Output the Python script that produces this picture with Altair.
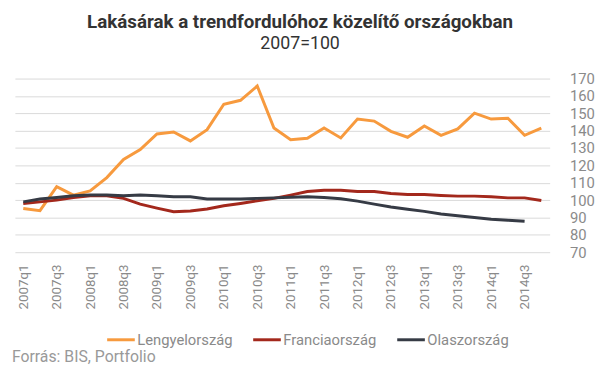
import altair as alt
import pandas as pd

quarters = [f"{y}q{q}" for y in range(2007, 2015) for q in range(1, 5)]

lengyel = [95.2, 93.9, 107.8, 102.9, 105.3, 113.0, 123.4, 129.1,
           138.1, 139.2, 134.1, 140.6, 155.2, 157.5, 165.7, 141.5,
           134.8, 135.6, 141.5, 135.8, 146.7, 145.5, 139.6, 136.2,
           142.7, 137.3, 141.0, 150.1, 146.7, 147.2, 137.3, 141.5]
francia = [98.1, 99.0, 100.0, 101.5, 102.5, 102.5, 101.0, 97.7,
           95.4, 93.3, 93.7, 94.9, 96.8, 98.1, 99.6, 101.0,
           102.9, 105.0, 105.7, 105.7, 105.0, 105.0, 103.8, 103.2,
           103.2, 102.7, 102.3, 102.3, 101.9, 101.3, 101.3, 99.8]
olasz = [99.0, 100.6, 101.5, 102.5, 102.9, 103.0, 102.5, 103.0,
         102.5, 101.9, 101.9, 100.6, 100.6, 100.6, 101.0, 101.3,
         101.7, 101.9, 101.5, 100.8, 99.4, 97.7, 96.0, 94.7,
         93.5, 92.0, 91.0, 90.0, 89.0, 88.4, 87.8, None]

series_names = ["Lengyelország", "Franciaország", "Olaszország"]
series_colors = ["#F79A3E", "#A3281C", "#363B45"]
y_ticks = list(range(70, 171, 10))
x_labels = [q for q in quarters if q.endswith("q1") or q.endswith("q3")]

rows = []
for name, vals in zip(series_names, [lengyel, francia, olasz]):
    for q, v in zip(quarters, vals):
        if v is not None:
            rows.append({"negyedev": q, "orszag": name, "ertek": v})
df = pd.DataFrame(rows)

lines = alt.Chart(df).mark_line(strokeWidth=3).encode(
    x=alt.X("negyedev:O", sort=quarters,
            scale=alt.Scale(type="point", padding=0.5, domain=quarters),
            axis=alt.Axis(title=None, values=x_labels, labelAngle=-90,
                          labelAlign="right", labelBaseline="middle",
                          labelPadding=12, ticks=False, domain=False,
                          grid=False, labelFontSize=13.5, labelColor="#8a8a8a",
                          labelFont="Roboto")),
    y=alt.Y("ertek:Q", scale=alt.Scale(domain=[70, 170], nice=False, zero=False),
            axis=alt.Axis(title=None, orient="right", values=y_ticks,
                          ticks=False, domain=False, labelPadding=20,
                          labelFontSize=15, labelColor="#8a8a8a",
                          labelFont="Roboto", gridColor="#d9d9d9",
                          gridWidth=1)),
    color=alt.Color("orszag:N", sort=series_names,
                    scale=alt.Scale(domain=series_names, range=series_colors),
                    legend=alt.Legend(title=None, orient="none",
                                      direction="horizontal",
                                      legendX=92, legendY=249,
                                      symbolType="stroke", symbolSize=784,
                                      symbolStrokeWidth=3, labelOffset=1,
                                      columnPadding=14, labelFontSize=15,
                                      labelColor="#8a8a8a", labelFont="Roboto")),
)

source = alt.Chart(pd.DataFrame({"t": ["Forrás: BIS, Portfolio"]})).mark_text(
    align="left", baseline="middle", fontSize=16, color="#999999",
    font="Roboto"
).encode(x=alt.value(-3), y=alt.value(282), text="t:N")

chart = alt.layer(lines, source).properties(
    width=542, height=176,
    title=alt.TitleParams(
        text="Lakásárak a trendfordulóhoz közelítő országokban",
        subtitle="2007=100",
        anchor="middle", dx=18, offset=19,
        font="Roboto", fontSize=19, fontWeight="bold", color="#333333",
        subtitleFont="Roboto", subtitleFontSize=18, subtitleColor="#333333",
        subtitlePadding=3,
    ),
    autosize=alt.AutoSizeParams(type="none"),
    padding={"left": 7, "top": 69, "right": 50, "bottom": 127},
).configure_view(stroke=None)

chart.save("out.html", embed_options={"renderer": "svg", "actions": False})
